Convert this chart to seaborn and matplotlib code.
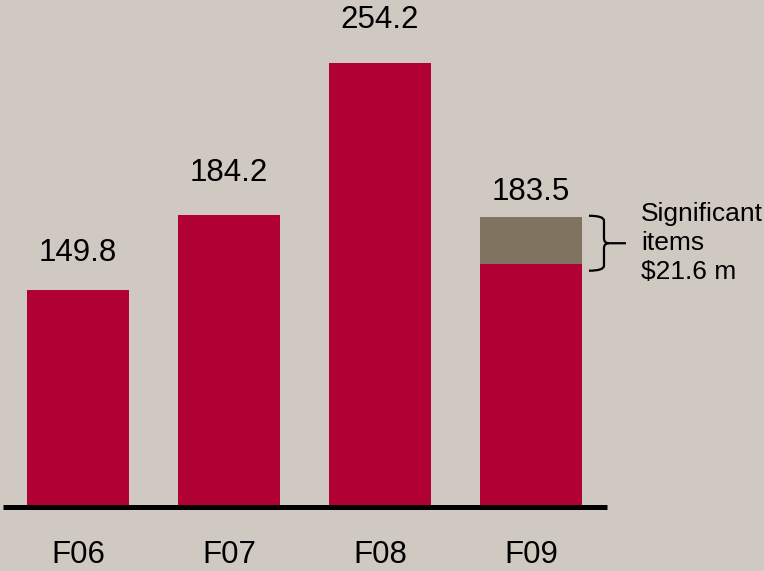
import matplotlib
matplotlib.use("Agg")
import matplotlib.pyplot as plt
from matplotlib.path import Path
from matplotlib.patches import PathPatch
import pandas as pd
import seaborn as sns

years = ["F06", "F07", "F08", "F09"]
totals = [149.8, 184.2, 254.2, 183.5]
significant = [0, 0, 0, 21.6]
label_gap_px = [29, 34, 35, 17]

bg = "#D0C9C2"
red = "#B10034"
brown = "#807360"

sns.set_style("white")
plt.rcParams["font.family"] = ["Liberation Sans", "DejaVu Sans"]
plt.rcParams["text.color"] = "black"
plt.rcParams["xtick.color"] = "black"

df = pd.DataFrame({"year": years, "total": totals, "sig": significant})
df["base"] = df["total"] - df["sig"]

fig = plt.figure(figsize=(7.64, 5.71), dpi=100, facecolor=bg)
ax = fig.add_axes([0, 64 / 571, 1, 507 / 571])
ax.set_facecolor(bg)

sns.barplot(data=df, x="year", y="total", hue="year",
            palette=[red, red, red, brown], width=0.675, legend=False,
            saturation=1, linewidth=0, ax=ax)
sns.barplot(data=df, x="year", y="base", color=red, width=0.675,
            saturation=1, linewidth=0, ax=ax)

ax.set_ylim(50, 283.2)
ax.set_xlim(-0.517, 4.543)

for i, (v, g) in enumerate(zip(totals, label_gap_px)):
    ax.annotate(f"{v:.1f}", (i, v), xytext=(0, g * 0.72), textcoords="offset points",
                ha="center", va="baseline", fontsize=22.5, color="black")

# baseline
ax.plot([-0.5, 3.5], [50, 50], color="black", lw=3.6, clip_on=False,
        solid_capstyle="butt")

# curly brace next to significant items
px_x = 1 / 151.0
px_y = 1 / 2.174
x0 = 3 + 0.675 / 2 + 7 * px_x
top = totals[3] + 1 * px_y
bot = df["base"].iloc[3] - 7 * px_y
mid = (top + bot) / 2
xv = x0 + 15 * px_x
xt = x0 + 37 * px_x
r = 5
upper = Path(
    [(x0, top), (xv, top), (xv, top - r * px_y),
     (xv, mid + r * px_y), (xv, mid), (xv + r * px_x, mid), (xt, mid)],
    [Path.MOVETO, Path.CURVE3, Path.CURVE3,
     Path.LINETO, Path.CURVE3, Path.CURVE3, Path.LINETO])
lower = Path(
    [(xv + r * px_x, mid), (xv, mid), (xv, mid - r * px_y),
     (xv, bot + r * px_y), (xv, bot), (x0, bot)],
    [Path.MOVETO, Path.CURVE3, Path.CURVE3,
     Path.LINETO, Path.CURVE3, Path.CURVE3])
for p in (upper, lower):
    ax.add_patch(PathPatch(p, fill=False, lw=1.6, edgecolor="black",
                           clip_on=False))

ax.text(xt + 15 * px_x, mid, "Significant\nitems\n$21.6 m", ha="left", va="center",
        fontsize=19, linespacing=1.27, color="black")

ax.set_xlabel("")
ax.set_ylabel("")
ax.set_yticks([])
ax.tick_params(axis="x", length=0, pad=24, labelsize=22.5, labelcolor="black")
sns.despine(ax=ax, left=True, bottom=True)

fig.savefig("out.png", dpi=100, facecolor=bg)
